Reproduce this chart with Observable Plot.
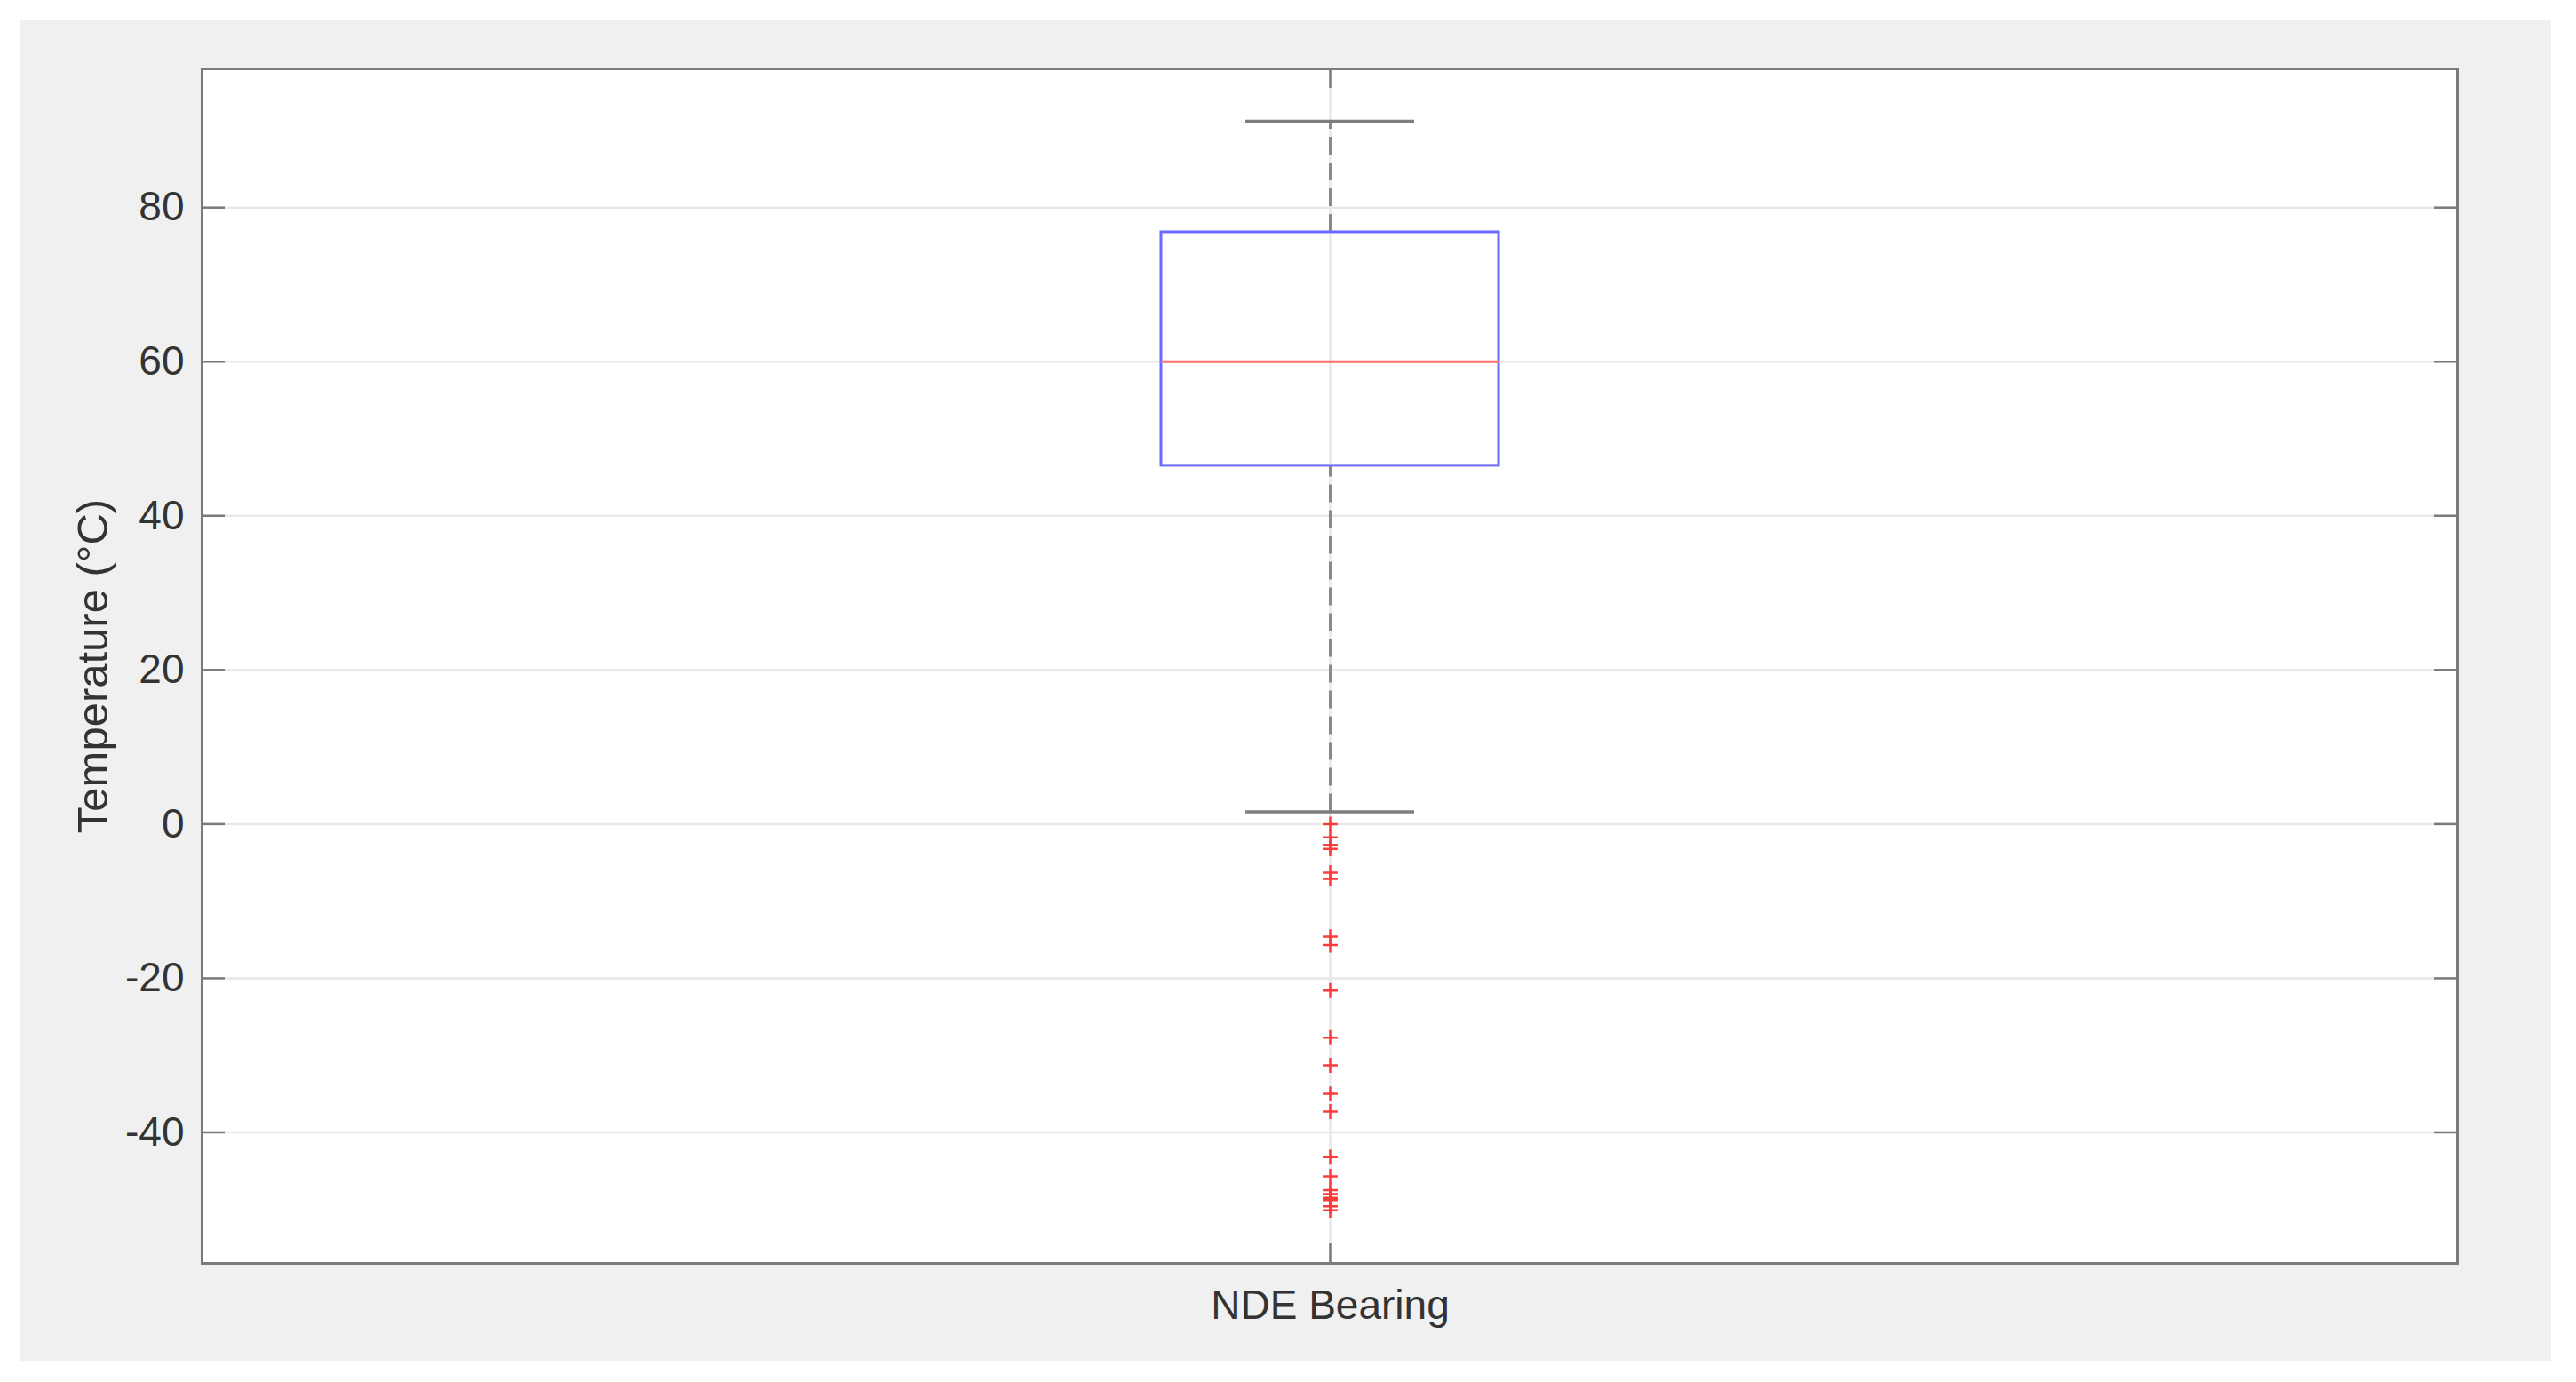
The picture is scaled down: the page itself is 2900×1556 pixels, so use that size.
<!DOCTYPE html>
<html>
<head>
<meta charset="utf-8">
<script src="https://cdn.jsdelivr.net/npm/d3@7"></script>
<script src="https://cdn.jsdelivr.net/npm/@observablehq/plot@0.6"></script>
<style>
  html, body { margin: 0; padding: 0; background: #ffffff; }
  #bg { position: absolute; left: 22px; top: 22px; width: 2850px; height: 1510px; background: #f0f0f0; }
  #chart { position: absolute; left: 0; top: 0; }
</style>
</head>
<body>
<div id="bg"></div>
<div id="chart"></div>
<script>
// ---- data ----
const categories = ["NDE Bearing"];
const q1 = [46.5];
const median = [60];
const q3 = [76.8];
const whiskerLow = [1.6];
const whiskerHigh = [91.2];
const outlierValues = [0.0, -1.7, -2.7, -3.2, -6.3, -7.1, -14.6, -15.7, -21.6, -27.7, -31.3, -35.0, -37.3,
  -43.2, -45.7, -47.5, -48.0, -48.5, -48.8, -49.6, -50.1];
const yTicks = [-40, -20, 0, 20, 40, 60, 80];
const yDomain = [-57, 98];
const yLabel = "Temperature (°C)";

// ---- derived tables ----
const boxes = categories.map((c, i) => ({cat: c, q1: q1[i], med: median[i], q3: q3[i], lo: whiskerLow[i], hi: whiskerHigh[i]}));
const outliers = outlierValues.map(v => ({cat: categories[0], v}));

const W = 2900, H = 1556;
const mL = 227, mR = 134, mT = 77, mB = 134;
const frameW = W - mL - mR, frameH = H - mT - mB;
const font = "'Liberation Sans', Arial, Helvetica, sans-serif";
const axisGray = "#7a7a7a";
const gridGray = "#e9e9e9";
const tickLen = 26;

const chart = Plot.plot({
  width: W,
  height: H,
  marginLeft: mL, marginRight: mR, marginTop: mT, marginBottom: mB,
  style: {background: "transparent", fontFamily: font, fontSize: "46px", color: "#333333"},
  x: {domain: categories, paddingInner: 0, paddingOuter: 2.84, label: null},
  y: {domain: yDomain, label: null},
  marks: [
    Plot.frame({fill: "white", stroke: null}),
    // grid
    Plot.ruleY(yTicks, {stroke: gridGray, strokeWidth: 2.5}),
    Plot.ruleX(categories, {x: d => d, stroke: gridGray, strokeWidth: 2.5}),
    // inner ticks (left/right)
    Plot.tickY(yTicks, {y: d => d, stroke: axisGray, strokeWidth: 2.5, insetRight: frameW - tickLen}),
    Plot.tickY(yTicks, {y: d => d, stroke: axisGray, strokeWidth: 2.5, insetLeft: frameW - tickLen}),
    // whiskers
    Plot.ruleX(boxes, {x: "cat", y1: "q3", y2: "hi", stroke: "#8a8a8a", strokeWidth: 3, strokeDasharray: "20,9"}),
    Plot.ruleX(boxes, {x: "cat", y1: "lo", y2: "q1", stroke: "#8a8a8a", strokeWidth: 3, strokeDasharray: "20,9"}),
    Plot.tickY(boxes, {x: "cat", y: "hi", stroke: "#7d7d7d", strokeWidth: 3.5, insetLeft: 95, insetRight: 95}),
    Plot.tickY(boxes, {x: "cat", y: "lo", stroke: "#7d7d7d", strokeWidth: 3.5, insetLeft: 95, insetRight: 95}),
    // box
    Plot.barY(boxes, {x: "cat", y1: "q1", y2: "q3", fill: "none", stroke: "#6a6aff", strokeWidth: 3}),
    Plot.tickY(boxes, {x: "cat", y: "med", stroke: "#ff7070", strokeWidth: 3}),
    // outliers
    Plot.dot(outliers, {x: "cat", y: "v", symbol: "plus", r: 5.5, stroke: "#ff3a3a", strokeWidth: 2.5}),
    // top/bottom inner ticks
    Plot.tickX(categories, {x: d => d, stroke: axisGray, strokeWidth: 2.5, insetBottom: frameH - 22}),
    Plot.tickX(categories, {x: d => d, stroke: axisGray, strokeWidth: 2.5, insetTop: frameH - 22}),
    Plot.frame({stroke: axisGray, strokeWidth: 3}),
    Plot.axisY(yTicks, {anchor: "left", tickSize: 0, tickPadding: 20, tickFormat: d => String(d), label: null, fill: "#333333"}),
    Plot.axisY([], {anchor: "left", tickSize: 0, label: yLabel, labelAnchor: "center", labelArrow: "none", labelOffset: 141, fontSize: 49, fill: "#333333"}),
    Plot.axisX({anchor: "bottom", tickSize: 0, tickPadding: 30, label: null, fill: "#333333"})
  ]
});
document.getElementById("chart").appendChild(chart);
</script>
</body>
</html>
